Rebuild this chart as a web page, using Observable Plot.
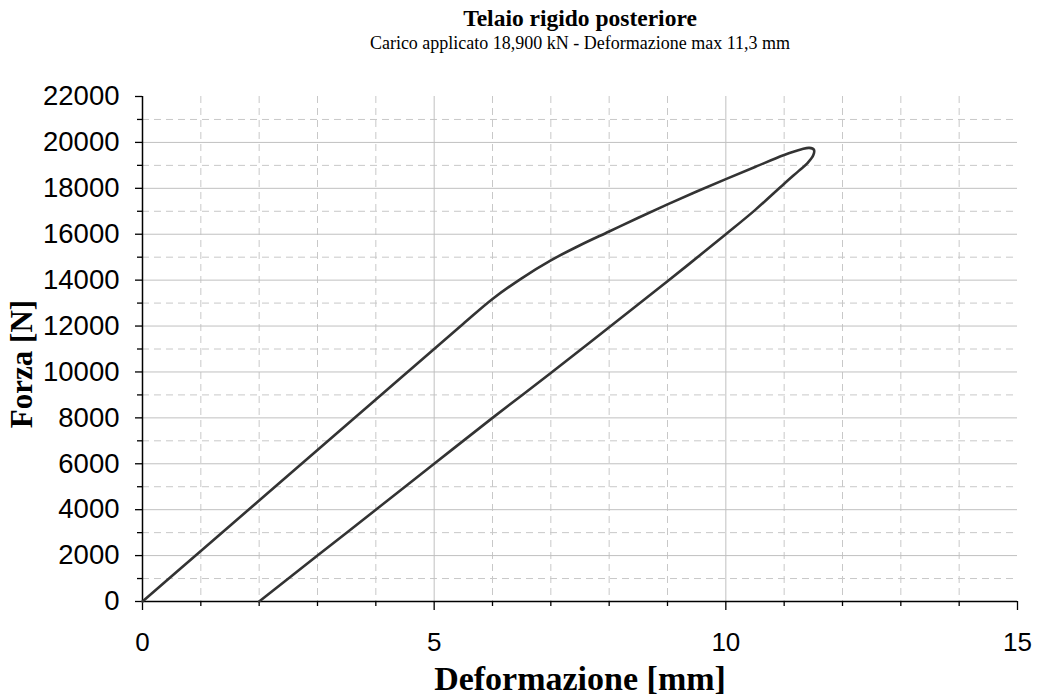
<!DOCTYPE html>
<html><head><meta charset="utf-8">
<script src="https://cdn.jsdelivr.net/npm/d3@7"></script>
<script src="https://cdn.jsdelivr.net/npm/@observablehq/plot@0.6"></script>
<style>
body{margin:0;background:#fff;}
#head{position:relative;width:1038px;height:60px;overflow:hidden;}
#head div{position:absolute;left:580px;transform:translateX(-50%);white-space:nowrap;font-family:"Liberation Serif","Times New Roman",serif;line-height:1;color:#000;}
#title{top:7px;font-size:23.5px;font-weight:bold;}
#subtitle{top:34px;font-size:18px;}
</style>
</head><body>
<div id="head"><div id="title">Telaio rigido posteriore</div><div id="subtitle">Carico applicato 18,900 kN - Deformazione max 11,3 mm</div></div>
<div id="chart"></div>
<script>
// Curve traced along its path: loading branch then unloading branch
const deformazione = [0,1,2,3,4,5,5.5,6,6.5,7,7.5,8,8.5,9,9.5,10,10.5,11,11.3,11.43,11.51,11.5,11.4,11.25,11,10.5,10,9,8,7,6,5,4,3,2];
const forza = [0,2200,4400,6600,8800,11000,12100,13180,14080,14860,15520,16120,16720,17300,17860,18400,18930,19450,19700,19760,19680,19450,19100,18760,18200,17050,16000,13950,11950,9950,8000,6000,4000,2000,0];

const xMajor = [0,5,10,15];
const xMinor = [1,2,3,4,6,7,8,9,11,12,13,14];
const yMajor = [0,2000,4000,6000,8000,10000,12000,14000,16000,18000,20000,22000];
const yMinor = [1000,3000,5000,7000,9000,11000,13000,15000,17000,19000,21000];

const data = deformazione.map((x,i)=>({x, y: forza[i]}));
const serif = "'Liberation Serif', 'Times New Roman', serif";

const chart = Plot.plot({
  width: 1038,
  height: 638,
  marginLeft: 142,
  marginRight: 21,
  marginTop: 36,
  marginBottom: 97,
  style: {fontFamily: "'Liberation Sans', Arial, sans-serif", fontSize: "26px", color: "#000", background: "#fff"},
  x: {domain: [0,15]},
  y: {domain: [0,22000]},
  marks: [
    Plot.ruleY(yMinor, {stroke: "#c8c8c8", strokeDasharray: "7,5"}),
    Plot.ruleX(xMinor, {stroke: "#c8c8c8", strokeDasharray: "7,5"}),
    Plot.ruleY(yMajor.filter(v => v > 0 && v < 22000), {stroke: "#c0c0c0"}),
    Plot.ruleX([5,10], {stroke: "#c0c0c0"}),
    Plot.axisY(yMajor, {tickSize: 7, tickPadding: 16, tickFormat: d3.format("d"), label: null, strokeWidth: 1.3, fontSize: 27.5}),
    Plot.axisY(yMinor, {tickSize: 5, text: null, label: null, strokeWidth: 1.3}),
    Plot.axisX(xMajor, {tickSize: 9, tickPadding: 22, label: null, strokeWidth: 1.3}),
    Plot.axisX(xMinor, {tickSize: 5, text: null, label: null, strokeWidth: 1.3}),
    Plot.ruleX([0], {stroke: "#000", strokeWidth: 1.5}),
    Plot.ruleY([0], {stroke: "#000", strokeWidth: 1.5}),
    Plot.line(data, {x: "x", y: "y", curve: "catmull-rom", stroke: "#333", strokeWidth: 2.6}),
    Plot.text(["Deformazione [mm]"], {frameAnchor: "bottom", dy: 88, lineAnchor: "bottom", fontFamily: serif, fontWeight: "bold", fontSize: 34, fill: "#000"}),
    Plot.text(["Forza [N]"], {frameAnchor: "left", textAnchor: "middle", dx: -120, dy: 15, rotate: -90, fontFamily: serif, fontWeight: "bold", fontSize: 31, fill: "#000"})
  ]
});
document.getElementById("chart").appendChild(chart);
</script>
</body></html>
